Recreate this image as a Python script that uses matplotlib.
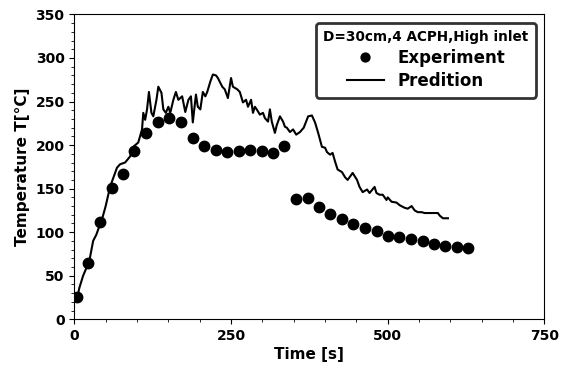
import matplotlib
matplotlib.use("Agg")
import matplotlib.pyplot as plt
from matplotlib.ticker import MultipleLocator

# Experiment (measured) temperature
exp_time = [4, 21.5, 40.7, 59.8, 77.4, 95, 114, 133, 151, 170, 189, 207, 226, 243,
            263, 280, 299, 317, 334, 353, 373, 390, 408, 427, 444, 464, 483, 500,
            518, 537, 556, 574, 591, 610, 628]
exp_temp = [26, 64.5, 112, 150.6, 167, 193, 214, 227, 231, 226, 208, 199, 194, 192,
            193, 194, 193, 191, 199, 138, 139, 129, 121, 115, 109, 105, 101, 96,
            94, 92, 90, 87, 84, 83, 82]

# Prediction curve
pred_time = [0, 5, 8, 14, 21, 25, 30, 35, 38, 45, 50, 57, 68, 73, 81, 89, 94, 102,
             108, 110, 113, 116, 119, 123, 126, 131, 134, 139, 142, 146, 150, 153,
             158, 162, 166, 172, 177, 182, 186, 189, 194, 197, 201, 205, 209, 212,
             217, 221, 226, 229, 236, 240, 245, 250, 253, 260, 264, 269, 274, 277,
             282, 285, 288, 291, 296, 301, 304, 309, 312, 315, 320, 323, 328, 333,
             336, 339, 344, 349, 354, 360, 366, 373, 379, 384, 389, 395, 400, 403,
             408, 412, 416, 420, 427, 432, 436, 444, 451, 455, 460, 467, 471, 479,
             482, 487, 492, 498, 500, 506, 514, 519, 527, 532, 538, 543, 548, 554,
             559, 570, 580, 583, 588, 596]
pred_temp = [22, 26, 36, 50, 62, 71, 90, 97, 103, 117, 130, 152, 174, 178, 180, 187,
             198, 203, 218, 237, 229, 241, 261, 237, 233, 252, 267, 260, 241, 237,
             244, 237, 252, 261, 252, 256, 238, 252, 256, 226, 258, 244, 241, 261,
             256, 261, 273, 281, 280, 277, 267, 264, 254, 277, 267, 264, 261, 249,
             252, 244, 252, 237, 244, 241, 235, 237, 231, 227, 241, 227, 214, 223,
             233, 227, 221, 220, 215, 218, 212, 215, 220, 233, 234, 226, 214, 198,
             197, 192, 189, 191, 181, 172, 169, 163, 160, 168, 160, 152, 146, 149,
             145, 152, 145, 143, 143, 137, 140, 135, 134, 131, 128, 127, 130, 125,
             123, 123, 122, 122, 122, 119, 116, 116]

plt.rcParams["font.family"] = "DejaVu Sans"
plt.rcParams["font.weight"] = "bold"

fig = plt.figure(figsize=(5.61, 3.70), dpi=100)
ax = fig.add_axes([0.1325, 0.137, 0.838, 0.824])

ax.plot(exp_time, exp_temp, "o", color="black", markersize=7.5, label="Experiment")
ax.plot(pred_time, pred_temp, "-", color="black", linewidth=1.5, label="Predition")

ax.set_xlim(0, 750)
ax.set_ylim(0, 350)
ax.xaxis.set_major_locator(MultipleLocator(250))
ax.xaxis.set_minor_locator(MultipleLocator(50))
ax.yaxis.set_major_locator(MultipleLocator(50))
ax.yaxis.set_minor_locator(MultipleLocator(10))
ax.tick_params(labelsize=10)
for lab in ax.get_xticklabels() + ax.get_yticklabels():
    lab.set_fontweight("bold")

ax.set_xlabel("Time [s]", fontsize=11, fontweight="bold", labelpad=3)
ax.set_ylabel("Temperature T[°C]", fontsize=11, fontweight="bold")

leg = ax.legend(loc="upper right", title="D=30cm,4 ACPH,High inlet",
                prop={"weight": "bold", "size": 12}, markerscale=0.85,
                handlelength=2.2, fancybox=True, framealpha=1,
                edgecolor="0.2", borderpad=0.45, labelspacing=0.3,
                bbox_to_anchor=(1.0, 1.0))
leg.get_title().set_fontweight("bold")
leg.get_title().set_fontsize(9.8)
leg.get_frame().set_linewidth(2)

fig.savefig("out.png", dpi=100)
